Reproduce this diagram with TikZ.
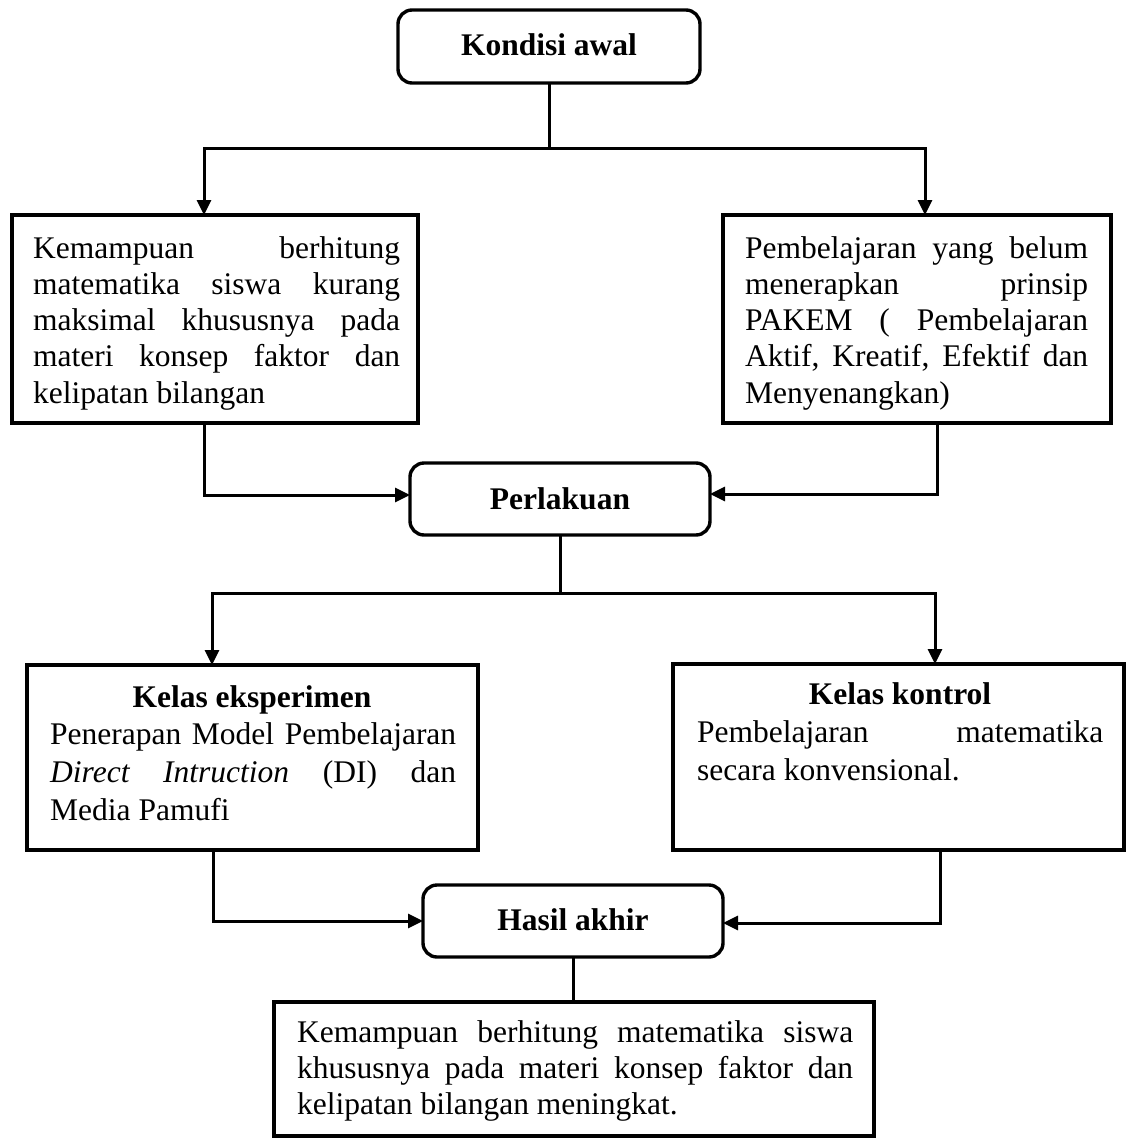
\documentclass[tikz,border=0pt]{standalone}
\usepackage{fontspec}
\setmainfont{Liberation Serif}
\usetikzlibrary{arrows.meta}
\newcommand{\jline}[1]{\hbox to\hsize{#1}}
\newcommand{\jlast}[1]{\hbox{#1}}
\newcommand{\jblock}[2]{\vtop{\hsize=#1\relax #2}}
\begin{document}
\begin{tikzpicture}[x=1pt,y=-1pt,
  box/.style={draw, line width=3.4pt, inner sep=0pt, outer sep=0pt, rectangle},
  rbox/.style={box, rounded corners=14pt},
  ln/.style={line width=3pt},
  arr/.style={ln, -{Triangle[length=15pt,width=14pt]}},
  txt/.style={inner sep=0pt, font=\fontsize{31.5}{36.3}\selectfont\frenchspacing},
  txtb/.style={inner sep=0pt, font=\fontsize{31.5}{38}\selectfont\frenchspacing},
  ttl/.style={inner sep=0pt, font=\fontsize{31.5}{36.3}\selectfont\bfseries}]
\useasboundingbox (0,0) rectangle (1126,1138);

% boxes
\node[rbox, minimum width=302pt, minimum height=73pt] (kondisi) at (549,46.5) {};
\node[box, minimum width=406pt, minimum height=208pt] (A) at (215,319) {};
\node[box, minimum width=388pt, minimum height=208pt] (B) at (917,319) {};
\node[rbox, minimum width=300pt, minimum height=72pt] (perl) at (560,499) {};
\node[box, minimum width=451pt, minimum height=185pt] (eks) at (252.5,757.5) {};
\node[box, minimum width=451pt, minimum height=186pt] (kon) at (898.5,757) {};
\node[rbox, minimum width=300pt, minimum height=72pt] (hasil) at (573,921) {};
\node[box, minimum width=600pt, minimum height=134pt] (bot) at (574,1069) {};

% texts
\node[ttl, anchor=base] (tK) at (549,55) {Kondisi awal};
\node[ttl, anchor=base] (tP) at (560,509) {Perlakuan};
\node[ttl, anchor=base] (tH) at (573,930) {Hasil akhir};

\node[txt, anchor=base west] (tA) at (33,258) {\jblock{367pt}{%
\jline{Kemampuan berhitung}%
\jline{matematika siswa kurang}%
\jline{maksimal khususnya pada}%
\jline{materi konsep faktor dan}%
\jlast{kelipatan bilangan}}};

\node[txt, anchor=base west] (tB) at (745,258) {\jblock{343pt}{%
\jline{Pembelajaran yang belum}%
\jline{menerapkan prinsip}%
\jline{PAKEM ( Pembelajaran}%
\jline{Aktif, Kreatif, Efektif dan}%
\jlast{Menyenangkan)}}};

\node[ttl, anchor=base] (tE) at (252,707) {Kelas eksperimen};
\node[txtb, anchor=base west] (tEb) at (50,744) {\jblock{406pt}{%
\jline{Penerapan Model Pembelajaran}%
\jline{{\itshape Direct Intruction} (DI) dan}%
\jlast{Media Pamufi}}};

\node[ttl, anchor=base] (tC) at (900,704) {Kelas kontrol};
\node[txtb, anchor=base west] (tCb) at (697,742) {\jblock{406pt}{%
\jline{Pembelajaran matematika}%
\jlast{secara konvensional.}}};

\node[txt, anchor=base west] (tBot) at (297,1042) {\jblock{556pt}{%
\jline{Kemampuan berhitung matematika siswa}%
\jline{khususnya pada materi konsep faktor dan}%
\jlast{kelipatan bilangan meningkat.}}};

% connectors
\coordinate (j1) at (549,148);
\coordinate (j2) at (560,593);
\draw[ln] (kondisi.south) -- (j1);
\draw[arr] (j1) -| ([xshift=-11pt]A.north);
\draw[arr] (j1) -| ([xshift=8pt]B.north);
\draw[arr] ([xshift=-11pt]A.south) |- ([yshift=4pt]perl.west);
\draw[arr] ([xshift=20pt]B.south) |- ([yshift=5pt]perl.east);
\draw[ln] (perl.south) -- (j2);
\draw[arr] (j2) -| ([xshift=-40.5pt]eks.north);
\draw[arr] (j2) -| ([xshift=36.5pt]kon.north);
\draw[arr] ([xshift=-39.5pt]eks.south) |- (hasil.west);
\draw[arr] ([xshift=41.5pt]kon.south) |- ([yshift=-2pt]hasil.east);
\draw[ln] (hasil.south) -- (hasil.south |- bot.north);
\end{tikzpicture}
\end{document}
